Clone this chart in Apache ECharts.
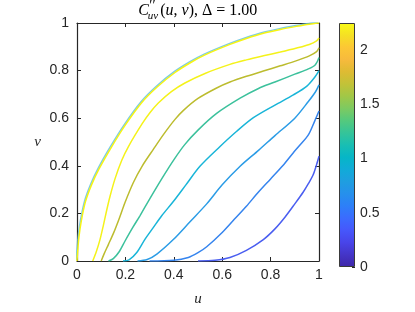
<!DOCTYPE html>
<html>
<head>
<meta charset="utf-8">
<script src="https://cdn.jsdelivr.net/npm/echarts@6/dist/echarts.min.js"></script>
<style>html,body{margin:0;padding:0;background:#fff}#c{width:415px;height:312px}</style>
</head>
<body>
<div id="c"></div>
<script>
// ---- data ----
const xTickValues = [0, 0.2, 0.4, 0.6, 0.8, 1];
const yTickValues = [0, 0.2, 0.4, 0.6, 0.8, 1];
const colorbarTicks = [0, 0.5, 1, 1.5, 2];
const colorbarMax = 2.25;
const titleValue = '1.00';

const curve1 = [[0,0],[0.002,0.03],[0.008,0.1],[0.018,0.17],[0.035,0.25],[0.06,0.32],[0.09,0.385],[0.143,0.48],[0.2,0.572],[0.267,0.665],[0.33,0.73],[0.405,0.792],[0.47,0.834],[0.529,0.866],[0.632,0.91],[0.7,0.935],[0.77,0.957],[0.84,0.973],[0.908,0.986],[0.96,0.995],[1,1]];
const curve2 = [[0.065,0],[0.08,0.04],[0.095,0.09],[0.109,0.15],[0.122,0.21],[0.136,0.27],[0.157,0.345],[0.185,0.423],[0.212,0.48],[0.27,0.578],[0.302,0.624],[0.336,0.664],[0.39,0.712],[0.446,0.748],[0.529,0.788],[0.632,0.826],[0.7,0.845],[0.77,0.862],[0.84,0.878],[0.908,0.895],[0.96,0.91],[0.99,0.925],[1,0.937]];
const curve3 = [[0.1,0],[0.112,0.03],[0.13,0.07],[0.15,0.115],[0.175,0.18],[0.198,0.245],[0.233,0.33],[0.27,0.4],[0.316,0.47],[0.36,0.535],[0.405,0.595],[0.44,0.633],[0.5,0.683],[0.577,0.727],[0.632,0.752],[0.7,0.776],[0.77,0.798],[0.84,0.82],[0.908,0.842],[0.96,0.862],[0.99,0.88],[1,0.896]];
const curve4 = [[0.13,0],[0.15,0.01],[0.175,0.04],[0.198,0.083],[0.23,0.14],[0.26,0.19],[0.3,0.26],[0.35,0.345],[0.4,0.425],[0.446,0.49],[0.5,0.55],[0.577,0.62],[0.674,0.684],[0.75,0.725],[0.818,0.752],[0.9,0.785],[0.956,0.807],[0.985,0.825],[1,0.855]];
const curve5 = [[0.19,0],[0.215,0.005],[0.247,0.036],[0.28,0.09],[0.315,0.14],[0.35,0.19],[0.398,0.25],[0.45,0.32],[0.508,0.398],[0.59,0.48],[0.66,0.545],[0.729,0.602],[0.818,0.655],[0.894,0.698],[0.95,0.735],[0.983,0.773],[1,0.8]];
const curve6 = [[0.25,0],[0.29,0.006],[0.33,0.029],[0.398,0.09],[0.467,0.165],[0.536,0.24],[0.6,0.32],[0.674,0.398],[0.75,0.465],[0.818,0.527],[0.9,0.6],[0.956,0.67],[0.985,0.71],[1,0.74]];
const curve7 = [[0.3,0],[0.4,0.003],[0.46,0.015],[0.5,0.035],[0.536,0.06],[0.6,0.12],[0.65,0.175],[0.7,0.23],[0.75,0.29],[0.8,0.345],[0.85,0.4],[0.894,0.455],[0.915,0.48],[0.956,0.53],[0.983,0.59],[1,0.63]];
const curve8 = [[0.5,0],[0.57,0.003],[0.632,0.015],[0.7,0.045],[0.77,0.09],[0.818,0.135],[0.86,0.185],[0.9,0.24],[0.935,0.29],[0.956,0.325],[0.975,0.36],[0.99,0.405],[1,0.44]];

// ---- styles ----
const curves = [curve1, curve2, curve3, curve4, curve5, curve6, curve7, curve8];
const curveColors = ['#f6f414','#f4f21a','#bcbc2e','#3cc19c','#19b5d8','#2b9ce6','#3584ee','#4a5ef0'];
const parula = [
  [0.00,'#3e26a8'],[0.05,'#4435c7'],[0.10,'#4844e9'],[0.15,'#4657fb'],[0.20,'#3b6bfe'],
  [0.25,'#2d7ff8'],[0.30,'#2690ec'],[0.35,'#1f9ee0'],[0.40,'#11abd8'],[0.45,'#06b6c7'],
  [0.50,'#19beb3'],[0.55,'#35c499'],[0.60,'#54c97d'],[0.65,'#7dca61'],[0.70,'#a1c747'],
  [0.75,'#c2c238'],[0.80,'#debb33'],[0.85,'#f7ba3d'],[0.90,'#fcc735'],[0.95,'#f5e024'],[1.00,'#f9fb15']
];
const ink = '#262626';
const sans = '"Liberation Sans", Arial, sans-serif';
const serif = '"Liberation Serif", "Times New Roman", serif';

const chart = echarts.init(document.getElementById('c'), null, {renderer:'canvas'});

function mainAxis(pos, showLabel, isX) {
  return {
    type: 'value', gridIndex: 0, position: pos, min: 0, max: 1, interval: 0.2,
    axisLine: {show: true, onZero: false, lineStyle: {color: ink, width: 1.2}},
    axisTick: {show: true, inside: true, length: 4, lineStyle: {color: ink, width: 1}},
    axisLabel: {show: showLabel, color: ink, fontSize: 14, fontFamily: sans, margin: isX ? 7 : 8},
    splitLine: {show: false}
  };
}
const xBottom = mainAxis('bottom', true, true);
xBottom.name = 'u'; xBottom.nameLocation = 'middle'; xBottom.nameGap = 31;
xBottom.nameTextStyle = {fontFamily: serif, fontStyle: 'italic', fontSize: 15, color: ink};
const yLeft = mainAxis('left', true, false);
yLeft.name = 'v'; yLeft.nameLocation = 'middle'; yLeft.nameGap = 36; yLeft.nameRotate = 0;
yLeft.nameTextStyle = {fontFamily: serif, fontStyle: 'italic', fontSize: 15, color: ink};

const series = curves.map((d, i) => ({
  type: 'line', data: d, xAxisIndex: 0, yAxisIndex: 0, showSymbol: false, symbol: 'none',
  smooth: 0.3, silent: true, z: 10 - i,
  lineStyle: Object.assign({color: curveColors[i], width: 1.5},
    i === 0 ? {shadowColor: 'rgba(90,190,220,0.8)', shadowBlur: 0, shadowOffsetX: -0.8, shadowOffsetY: -0.8} : {})
}));
series.push({
  type: 'bar', xAxisIndex: 2, yAxisIndex: 2, data: [colorbarMax], barWidth: '100%', silent: true,
  itemStyle: {
    color: new echarts.graphic.LinearGradient(0, 1, 0, 0, parula.map(p => ({offset: p[0], color: p[1]}))),
    borderColor: '#3a3a3a', borderWidth: 1
  }
});

// title pieces measured for centering
const mctx = document.createElement('canvas').getContext('2d');
function mw(font, t) { mctx.font = font; return mctx.measureText(t).width; }
const fMain = '16px ' + serif, fIt = 'italic 16px ' + serif, fScr = 'italic 11px ' + serif;
const restParts = [['(', fMain], ['u', fIt], [', ', fMain], ['v', fIt], ['), \u0394 = ' + titleValue, fMain]];
const wC = mw(fIt, 'C'), wSub = mw(fScr, 'uv');
const wRest = restParts.reduce((s, p) => s + mw(p[1], p[0]), 0);
const total = wC + 0.5 + wSub + 1 + wRest;
const cx = 77 + 242 / 2;
const x0 = cx - total / 2;

chart.setOption({
  animation: false,
  backgroundColor: '#fff',
  grid: [
    {left: 77, top: 23, width: 242, height: 244},
    {left: 339, top: 23, width: 16, height: 244}
  ],
  xAxis: [
    xBottom,
    mainAxis('top', false, true),
    {type: 'category', gridIndex: 1, data: [''], show: false}
  ],
  yAxis: [
    yLeft,
    mainAxis('right', false, false),
    {type: 'value', gridIndex: 1, position: 'right', min: 0, max: colorbarMax, interval: 0.5,
     axisLine: {show: false}, splitLine: {show: false},
     axisTick: {show: true, inside: true, length: 3, lineStyle: {color: ink}},
     axisLabel: {color: ink, fontSize: 14, fontFamily: sans, margin: 5, showMaxLabel: false,
       formatter: v => (colorbarTicks.indexOf(v) >= 0 ? String(v) : '')}}
  ],
  series: series,
  graphic: [
    {type: 'text', x: x0, y: 11, style: {text: 'C', font: fIt, fill: '#000', verticalAlign: 'middle', textVerticalAlign: 'middle'}},
    {type: 'text', x: x0 + wC + 0.5, y: 6, style: {text: '\u2032\u2032', font: '14px ' + serif, fill: '#000', verticalAlign: 'middle', textVerticalAlign: 'middle'}},
    {type: 'text', x: x0 + wC - 1, y: 16, style: {text: 'uv', font: fScr, fill: '#000', verticalAlign: 'middle', textVerticalAlign: 'middle'}},
    {type: 'text', x: x0 + wC + wSub + 1, y: 11, style: {
      text: '{a|(}{b|u}{a|, }{b|v}{a|), \u0394 = ' + titleValue + '}',
      verticalAlign: 'middle', textVerticalAlign: 'middle',
      rich: {a: {fontFamily: serif, fontSize: 16, color: '#000'}, b: {fontFamily: serif, fontSize: 16, fontStyle: 'italic', color: '#000'}}
    }}
  ]
});
</script>
</body>
</html>
